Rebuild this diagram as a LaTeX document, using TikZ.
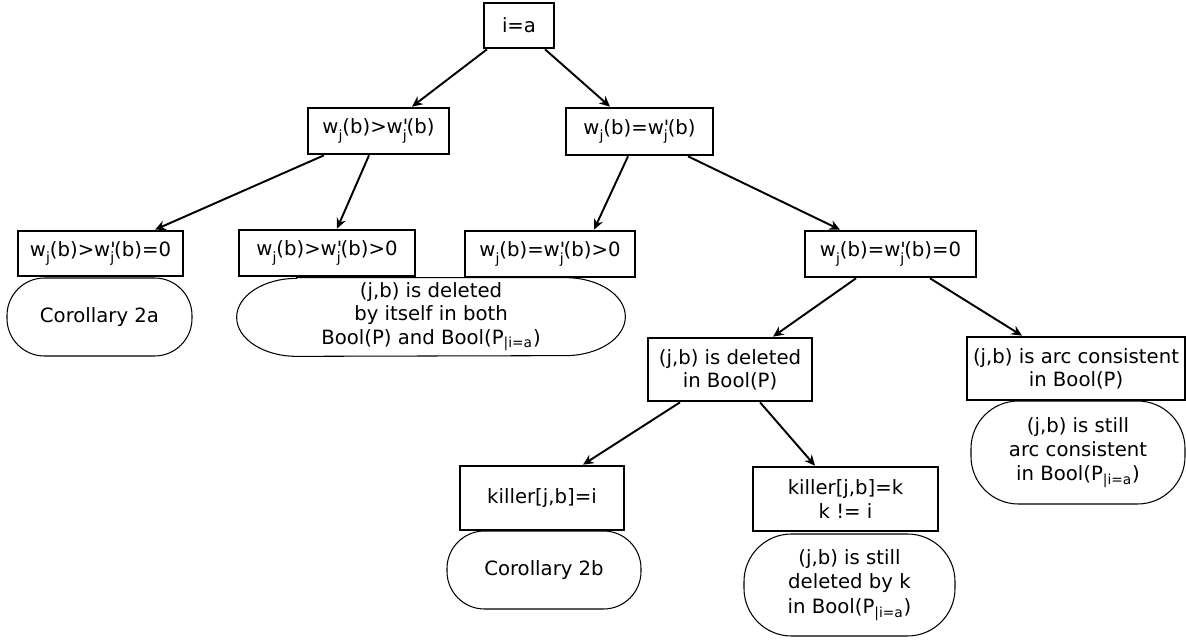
\documentclass[tikz,border=0pt]{standalone}
\usepackage{fontspec}
\setmainfont{DejaVu Sans}
\usetikzlibrary{arrows.meta}

\newcommand{\sbj}{\raisebox{-0.6ex}{\fontsize{8}{8}\selectfont j}}
\newcommand{\wj}{w\sbj}
\newcommand{\wpj}{w\rlap{\textquotesingle}\sbj}

\tikzset{
    sz/.style 2 args={minimum width=#1*0.02cm, minimum height=#2*0.02cm},
    box/.style={draw, line width=1.5pt, align=center, inner sep=0pt},
    leaf/.style={draw, line width=0.6pt, rounded corners=0.75cm, align=center, inner sep=0pt},
    edge/.style={-{Stealth[length=6pt, width=5.5pt]}, line width=1.1pt},
}

\begin{document}
\begin{tikzpicture}[x=0.02cm, y=-0.02cm, font=\fontsize{11.2}{13.2}\selectfont]
    \useasboundingbox (0, 0) rectangle (1186, 641);

    % 条件
    \node[box, sz={70}{45}] (ia) at (519, 25.5) {i=a};
    \node[box, sz={141}{46}] (gt) at (378.5, 131) {\wj(b)>\wpj(b)};
    \node[box, sz={147}{47}] (eq) at (639.5, 131.5) {\wj(b)=\wpj(b)};
    \node[box, sz={165}{45}] (gtz) at (100.5, 253.5) {\wj(b)>\wpj(b)=0};
    \node[box, sz={176}{46}] (gtp) at (327, 253) {\wj(b)>\wpj(b)>0};
    \node[box, sz={170}{46}] (eqp) at (550, 254) {\wj(b)=\wpj(b)>0};
    \node[box, sz={171}{46}] (eqz) at (890.5, 254) {\wj(b)=\wpj(b)=0};
    \node[box, sz={164}{63}] (del) at (730, 369.5) {(j,b) is deleted\\in Bool(P)};
    \node[box, sz={218}{63}] (arc) at (1076, 368.5) {(j,b) is arc consistent\\in Bool(P)};
    \node[box, sz={164}{64}] (kili) at (542, 498) {killer[j,b]=i};
    \node[box, sz={185}{64}] (kilk) at (845.5, 499) {killer[j,b]=k\\k != i};

    % 結論
    \node[leaf, sz={185}{78}] (cora) at (99.5, 317) {Corollary 2a};
    \node[align=center, inner sep=0pt, sz={388}{78}] (both) at (431, 317)
        {(j,b) is deleted\\by itself in both\\Bool(P) and Bool(P\textsubscript{|i=a})};
    \draw[line width=0.6pt] ([xshift=1.2cm]both.north west) -- ([xshift=-1.2cm]both.north east)
        arc[start angle=90, end angle=-90, x radius=1.2cm, y radius=0.78cm]
        -- ([xshift=1.2cm]both.south west)
        arc[start angle=270, end angle=90, x radius=1.2cm, y radius=0.78cm] -- cycle;
    \node[leaf, sz={194}{78}] (corb) at (544, 570) {Corollary 2b};
    \node[leaf, rounded corners=0.95cm, sz={211}{102}, font=\fontsize{11.2}{13.8}\selectfont] (stdel) at (849.5, 585)
        {(j,b) is still\\deleted by k\\in Bool(P\textsubscript{|i=a})};
    \node[leaf, rounded corners=0.95cm, sz={214}{103}, font=\fontsize{11.2}{13.8}\selectfont] (starc) at (1078, 452.5)
        {(j,b) is still\\arc consistent\\in Bool(P\textsubscript{|i=a})};

    % 矢印
    \draw[edge] ([xshift=-0.64cm]ia.south) -- ([xshift=0.67cm]gt.north);
    \draw[edge] ([xshift=0.52cm]ia.south) -- ([xshift=-0.59cm]eq.north);
    \draw[edge] ([xshift=-1.09cm]gt.south) -- ([xshift=1.09cm]gtz.north);
    \draw[edge] ([xshift=-0.19cm]gt.south) -- ([xshift=0.2cm]gtp.north);
    \draw[edge] ([xshift=-0.23cm]eq.south) -- ([xshift=0.88cm]eqp.north);
    \draw[edge] ([xshift=0.97cm]eq.south) -- ([xshift=-1.01cm]eqz.north);
    \draw[edge] ([xshift=-0.69cm]eqz.south) -- ([xshift=0.86cm]del.north);
    \draw[edge] ([xshift=0.79cm]eqz.south) -- ([xshift=-1.08cm]arc.north);
    \draw[edge] ([xshift=-1.0cm]del.south) -- ([xshift=0.82cm]kili.north);
    \draw[edge] ([xshift=0.6cm]del.south) -- ([xshift=-0.61cm]kilk.north);

\end{tikzpicture}
\end{document}
